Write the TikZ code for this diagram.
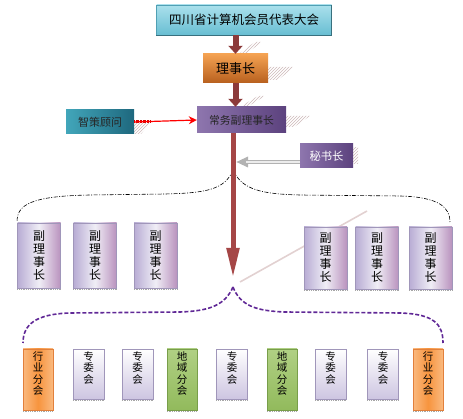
\documentclass[tikz,border=0pt]{standalone}
\usepackage{fontspec}
\setmainfont{Noto Sans CJK SC}
\usetikzlibrary{arrows.meta,patterns}
\definecolor{darr}{RGB}{140,58,58}
\definecolor{trunkc}{RGB}{165,70,70}
\definecolor{cyanA}{RGB}{170,224,236}
\definecolor{cyanB}{RGB}{104,190,210}
\definecolor{cyanD}{RGB}{80,160,180}
\definecolor{orA}{RGB}{244,162,82}
\definecolor{orB}{RGB}{184,96,30}
\definecolor{puA}{RGB}{142,118,174}
\definecolor{puB}{RGB}{92,66,126}
\definecolor{teA}{RGB}{66,166,186}
\definecolor{teB}{RGB}{30,104,126}
\definecolor{lavA}{RGB}{184,172,212}
\definecolor{lavB}{RGB}{240,238,246}
\definecolor{lavD}{RGB}{160,150,186}
\definecolor{boA}{RGB}{250,186,128}
\definecolor{boB}{RGB}{247,148,62}
\definecolor{boD}{RGB}{226,128,60}
\definecolor{grA}{RGB}{176,208,132}
\definecolor{grB}{RGB}{146,186,92}
\definecolor{grD}{RGB}{120,158,74}
\definecolor{curveP}{RGB}{96,40,150}
\definecolor{hatchc}{RGB}{205,185,185}
\tikzset{
  box/.style={rectangle, inner sep=0pt, anchor=center},
  topbox/.style={box, top color=cyanA, bottom color=cyanB, draw=cyanD, line width=0.6pt,
     font=\fontsize{12.5}{14}\selectfont},
  orbox/.style={box, left color=orA, right color=orB, shading angle=0,
     font=\fontsize{13}{15}\selectfont},
  pubox/.style={box, left color=puA, right color=puB, font=\fontsize{10.8}{13}\selectfont},
  tebox/.style={box, left color=teA, right color=teB, font=\fontsize{11}{13}\selectfont},
  vbox/.style={box, draw=lavD, line width=0.5pt, left color=lavA, right color=lavA!85!purple, middle color=lavB,
     align=center, font=\fontsize{12}{13}\selectfont, minimum width=43pt, minimum height=65pt},
  wbox/.style={box, draw=lavD, line width=0.5pt, top color=white, bottom color=lavA!70,
     minimum width=31pt, minimum height=50pt},
  obox/.style={box, draw=boD, line width=0.5pt, left color=boA, right color=boA, middle color=boB,
     minimum width=30pt, minimum height=61pt},
  gbox/.style={box, draw=grD, line width=0.5pt, top color=grA, bottom color=grB,
     minimum width=30pt, minimum height=61pt},
  vlab/.style={anchor=north, inner sep=0pt, align=center, font=\fontsize{10.5}{11.2}\selectfont},
  bigarrow/.style={draw=darr, line width=6pt, -{Triangle[width=14pt,length=8pt]}},
  hatch/.style={pattern=north east lines, pattern color=hatchc, draw=none},
  blackcurve/.style={black, line width=0.6pt, dash pattern=on 4pt off 1.5pt on 1pt off 1.5pt},
  purplecurve/.style={curveP, line width=1.6pt, dash pattern=on 4pt off 2pt},
  botshadow/.style={gray!70, line width=0.8pt, densely dotted}
}
\begin{document}
\begin{tikzpicture}[x=1pt,y=-1pt]
\useasboundingbox (0,0) rectangle (463,419);

% shadows (hatched)
\fill[hatch] (240,53) -- (247,53) -- (262,42) -- (255,42) -- cycle;
\fill[hatch] (268,80) -- (278,80) -- (294,67) -- (268,67) -- cycle;
\fill[hatch] (240,107) -- (247,107) -- (265,96) -- (258,96) -- cycle;
\fill[hatch] (286,127) -- (294,127) -- (310,116) -- (286,116) -- cycle;
\fill[hatch] (134,134) -- (141,134) -- (150,123) -- (134,123) -- cycle;
\fill[hatch] (353,164) -- (358,164) -- (358,148) -- (353,148) -- cycle;
\draw[pink!55!gray!50, line width=1.6pt] (240,282) -- (367,211);

% main boxes
\node[topbox, minimum width=175pt, minimum height=30pt] (top) at (244,20) {四川省计算机会员代表大会};
\node[orbox, minimum width=65pt, minimum height=29pt] (lsz) at (235.5,68.5) {理事长};
\node[pubox, minimum width=89pt, minimum height=26pt, text=black!85] (cw) at (241.5,120) {常务副理事长};
\node[tebox, minimum width=68pt, minimum height=24pt, text=black!85] (zc) at (100,122) {智策顾问};
\node[pubox, minimum width=53pt, minimum height=24pt, text=white, font=\fontsize{11.3}{13}\selectfont] (ms) at (326.5,156) {秘书长};
\draw[cyanD!70!black, line width=0.8pt] (top.south west) -- (top.south east) -- (top.north east);

% arrows between main boxes
\draw[bigarrow] (lsz.north |- top.south) -- (lsz.north);
\draw[bigarrow] (lsz.south) -- (lsz.south |- cw.north);

\coordinate (trunkend) at (233,278);
\coordinate (apexA) at (233,170);
\coordinate (apexB) at (233,287);
\coordinate (msA) at (300,162);
\coordinate (msT) at (236,162);

% red arrow
\draw[red!85!black, line width=3pt, dash pattern=on 0.6pt off 0.8pt] (zc.east) -- ++(16,0);
\draw[red, line width=1.2pt, -{Stealth[length=8pt,width=8pt]}] (zc.east) -- (cw.west);

% curves
\draw[blackcurve] (apexA) .. controls (225,190) and (205,193) .. (165,194) -- (90,195)
   .. controls (30,196) and (17,205) .. (17,222);
\draw[blackcurve] (apexA) .. controls (242,190) and (262,194) .. (300,195) -- (400,196)
   .. controls (440,197) and (450,208) .. (450,222);
\draw[purplecurve] (apexB) .. controls (225,305) and (210,311) .. (180,312) -- (70,313)
   .. controls (35,314) and (23,325) .. (23,343);
\draw[purplecurve] (apexB) .. controls (240,305) and (255,311) .. (285,312) -- (400,313)
   .. controls (435,314) and (443,325) .. (443,343);

% trunk
\draw[draw=trunkc, line width=5pt, -{Triangle[width=12pt,length=30pt]}] (trunkend |- cw.south) -- (trunkend);
% secretary arrow
\draw[gray!60, line width=3.5pt, -{Triangle[width=10pt,length=12pt]}] (msA) -- (msT);
\draw[white!85!gray, line width=1.2pt, shorten >=10pt] (msA) -- (msT);

% vice chair boxes
\node[vbox] (v1) at (39,255.5) {副\\理\\事\\长};
\node[vbox] (v2) at (95,255.5) {副\\理\\事\\长};
\node[vbox] (v3) at (155.5,255.5) {副\\理\\事\\长};
\node[vbox, minimum height=62pt] (v4) at (325.5,258) {副\\理\\事\\长};
\node[vbox, minimum height=62pt] (v5) at (377,258) {副\\理\\事\\长};
\node[vbox, minimum height=62pt] (v6) at (430.5,258) {副\\理\\事\\长};

% bottom boxes
\node[obox] (b1) at (38,379.5) {};
\node[wbox] (b2) at (88.5,374) {};
\node[wbox] (b3) at (137.5,374) {};
\node[gbox] (b4) at (182,379.5) {};
\node[wbox] (b5) at (232,374) {};
\node[gbox] (b6) at (282,379.5) {};
\node[wbox] (b7) at (330.5,374) {};
\node[wbox] (b8) at (383,374) {};
\node[obox] (b9) at (428,379.5) {};

\node[vlab] (t1) at ([yshift=-3pt]b1.north) {行\\业\\分\\会};
\node[vlab] (t2) at ([yshift=-3pt]b2.north) {专\\委\\会};
\node[vlab] (t3) at ([yshift=-3pt]b3.north) {专\\委\\会};
\node[vlab] (t4) at ([yshift=-3pt]b4.north) {地\\域\\分\\会};
\node[vlab] (t5) at ([yshift=-3pt]b5.north) {专\\委\\会};
\node[vlab] (t6) at ([yshift=-3pt]b6.north) {地\\域\\分\\会};
\node[vlab] (t7) at ([yshift=-3pt]b7.north) {专\\委\\会};
\node[vlab] (t8) at ([yshift=-3pt]b8.north) {专\\委\\会};
\node[vlab] (t9) at ([yshift=-3pt]b9.north) {行\\业\\分\\会};

\foreach \n in {v1,v2,v3,v4,v5,v6,b1,b2,b3,b4,b5,b6,b7,b8,b9}
  \draw[botshadow] ([yshift=-1.5pt]\n.south west) -- ([yshift=-1.5pt]\n.south east);
\end{tikzpicture}
\end{document}
